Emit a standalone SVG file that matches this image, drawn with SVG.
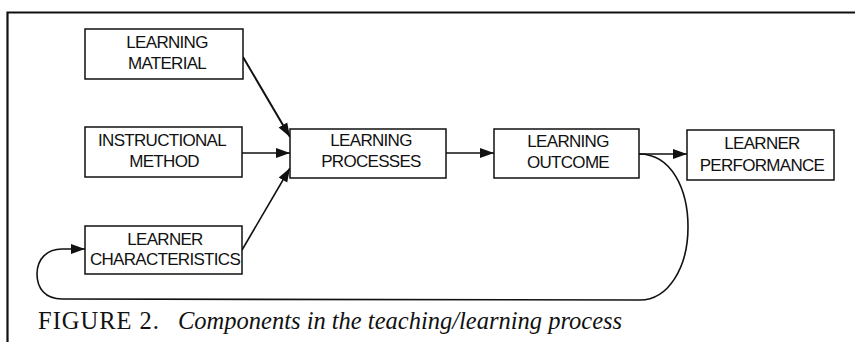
<svg xmlns="http://www.w3.org/2000/svg" width="855" height="342" viewBox="0 0 855 342">
<style>
.box{fill:#fff;stroke:#111;stroke-width:1.5}
.lbl{font-family:"Liberation Sans",Arial,sans-serif;font-size:17px;letter-spacing:-0.7px;fill:#111;text-anchor:middle}
.conn{fill:none;stroke:#111;stroke-width:1.6}
.frame{fill:none;stroke:#111;stroke-width:2.2}
.cap{font-family:"Liberation Serif","Times New Roman",serif;font-size:24.5px;fill:#111}
</style>
<defs>
<marker id="ah" markerUnits="userSpaceOnUse" markerWidth="15" markerHeight="11" refX="14" refY="5.5" orient="auto">
<path d="M0,0.5 L14,5.5 L0,10.5 Z" fill="#111"/>
</marker>
</defs>
<rect width="855" height="342" fill="#fff"/>
<path class="frame" d="M7.5,342 L7.5,12.5 L855,12.5"/>
<g id="connectors">
<line class="conn" x1="243" y1="57" x2="290" y2="137" marker-end="url(#ah)" style="stroke-width:2"/>
<line class="conn" x1="242" y1="153" x2="290" y2="153" marker-end="url(#ah)"/>
<line class="conn" x1="242" y1="250" x2="290" y2="168" marker-end="url(#ah)"/>
<line class="conn" x1="446" y1="153" x2="494" y2="153" marker-end="url(#ah)"/>
<line class="conn" x1="639" y1="154" x2="687" y2="154" marker-end="url(#ah)"/>
<path class="conn" d="M639,154 C672,154 688,190 688,227 C688,268 668,300 640,300 L62,299 C45,299 37,288 37,274 C37,259 47,249 62,249 L85,249" marker-end="url(#ah)"/>
</g>
<g id="learning-material">
<rect class="box" x="85" y="29" width="158" height="50"/>
<text class="lbl" x="167" y="48">LEARNING</text>
<text class="lbl" x="167" y="69">MATERIAL</text>
</g>
<g id="instructional-method">
<rect class="box" x="85" y="127" width="157" height="50"/>
<text class="lbl" x="162" y="146">INSTRUCTIONAL</text>
<text class="lbl" x="164" y="167">METHOD</text>
</g>
<g id="learner-characteristics">
<rect class="box" x="85" y="226" width="157" height="48"/>
<text class="lbl" x="165" y="245">LEARNER</text>
<text class="lbl" x="165" y="265">CHARACTERISTICS</text>
</g>
<g id="learning-processes">
<rect class="box" x="290" y="129" width="156" height="49"/>
<text class="lbl" x="371" y="146">LEARNING</text>
<text class="lbl" x="371" y="167">PROCESSES</text>
</g>
<g id="learning-outcome">
<rect class="box" x="494" y="129" width="145" height="49"/>
<text class="lbl" x="568" y="147">LEARNING</text>
<text class="lbl" x="568" y="168">OUTCOME</text>
</g>
<g id="learner-performance">
<rect class="box" x="687" y="130" width="147" height="50"/>
<text class="lbl" x="762" y="149">LEARNER</text>
<text class="lbl" x="762" y="171">PERFORMANCE</text>
</g>
<text class="cap" x="38" y="329" style="letter-spacing:1px">FIGURE 2.</text>
<text class="cap" x="178" y="329" style="font-style:italic">Components in the teaching/learning process</text>
</svg>
